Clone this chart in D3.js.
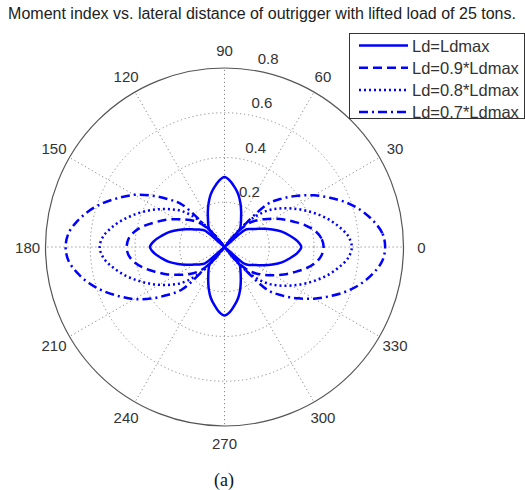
<!DOCTYPE html>
<html>
<head>
<meta charset="utf-8">
<script src="https://cdn.jsdelivr.net/npm/d3@7"></script>
<style>
  body { margin: 0; background: #fff; }
  svg { display: block; }
</style>
</head>
<body>
<svg id="chart" width="525" height="490"></svg>
<script>
// Sample angles (degrees, counter-clockwise from the 0° axis)
const angles = [
  0, 5, 10, 15, 20, 25, 30, 35, 40, 45, 50, 55, 60, 65, 70, 75, 80, 85,
  90, 95, 100, 105, 110, 115, 120, 125, 130, 135, 140, 145, 150, 155, 160, 165, 170, 175,
  180, 185, 190, 195, 200, 205, 210, 215, 220, 225, 230, 235, 240, 245, 250, 255, 260, 265,
  270, 275, 280, 285, 290, 295, 300, 305, 310, 315, 320, 325, 330, 335, 340, 345, 350, 355
];

// Moment index for each outrigger lateral distance
const rLdmax = [
  0.343, 0.325, 0.295, 0.265, 0.228, 0.193, 0.162, 0.140, 0.118, 0,
  0.107, 0.127, 0.148, 0.176, 0.208, 0.241, 0.269, 0.296, 0.313, 0.296,
  0.269, 0.241, 0.208, 0.176, 0.148, 0.127, 0.107, 0, 0.114, 0.136,
  0.157, 0.187, 0.221, 0.257, 0.286, 0.315, 0.333, 0.315, 0.286, 0.257,
  0.221, 0.187, 0.157, 0.136, 0.114, 0, 0.105, 0.124, 0.145, 0.172,
  0.204, 0.236, 0.263, 0.290, 0.306, 0.290, 0.263, 0.236, 0.204, 0.172,
  0.145, 0.124, 0.105, 0, 0.118, 0.140, 0.162, 0.193, 0.228, 0.265,
  0.295, 0.325
];
const rLd09 = [
  0.443, 0.435, 0.412, 0.374, 0.330, 0.292, 0.252, 0.217, 0.184, 0.146,
  0.075, 0, 0, 0, 0, 0, 0, 0, 0, 0,
  0, 0, 0, 0, 0, 0, 0.074, 0.144, 0.182, 0.214,
  0.249, 0.288, 0.326, 0.369, 0.406, 0.430, 0.437, 0.430, 0.406, 0.369,
  0.326, 0.288, 0.249, 0.214, 0.182, 0.144, 0.074, 0, 0, 0,
  0, 0, 0, 0, 0, 0, 0, 0, 0, 0,
  0, 0, 0.075, 0.146, 0.184, 0.217, 0.252, 0.292, 0.330, 0.374,
  0.412, 0.435
];
const rLd08 = [
  0.569, 0.555, 0.520, 0.480, 0.435, 0.390, 0.345, 0.300, 0.255, 0.190,
  0.100, 0, 0, 0, 0, 0, 0, 0, 0, 0,
  0, 0, 0, 0, 0, 0, 0.098, 0.186, 0.250, 0.294,
  0.338, 0.382, 0.426, 0.470, 0.510, 0.544, 0.558, 0.544, 0.510, 0.470,
  0.426, 0.382, 0.338, 0.294, 0.250, 0.186, 0.098, 0, 0, 0,
  0, 0, 0, 0, 0, 0, 0, 0, 0, 0,
  0, 0, 0.100, 0.190, 0.255, 0.300, 0.345, 0.390, 0.435, 0.480,
  0.520, 0.555
];
const rLd07 = [
  0.718, 0.708, 0.675, 0.632, 0.580, 0.520, 0.462, 0.400, 0.338, 0.270,
  0.040, 0, 0, 0, 0, 0, 0, 0, 0, 0,
  0, 0, 0, 0, 0, 0, 0.040, 0.267, 0.334, 0.402,
  0.466, 0.520, 0.576, 0.626, 0.668, 0.700, 0.710, 0.700, 0.668, 0.626,
  0.576, 0.520, 0.466, 0.402, 0.334, 0.267, 0.040, 0, 0, 0,
  0, 0, 0, 0, 0, 0, 0, 0, 0, 0,
  0, 0, 0.040, 0.270, 0.338, 0.400, 0.462, 0.520, 0.580, 0.632,
  0.675, 0.708
];

const seriesNames = ["Ld=Ldmax", "Ld=0.9*Ldmax", "Ld=0.8*Ldmax", "Ld=0.7*Ldmax"];
const ringTicks = [0.2, 0.4, 0.6, 0.8];
const spokeAngles = [0, 30, 60, 90, 120, 150, 180, 210, 240, 270, 300, 330];
const titleText = "Moment index vs. lateral distance of outrigger with lifted load of 25 tons.";
const captionText = "(a)";

// ---- layout ----
const svg = d3.select("#chart");
const cx = 224.5, cy = 247, R = 179;
const rMax = 0.8;
const rScale = d3.scaleLinear().domain([0, rMax]).range([0, R]);
const toRad = d => d * Math.PI / 180;

const gridColor = "#8a8a8a";
const textColor = "#333";
const lineBlue = "#0000ff";
const dashes = [null, "9,5", "2,3", "9,4,2,4"];
const seriesData = [rLdmax, rLd09, rLd08, rLd07];

const g = svg.append("g").attr("transform", `translate(${cx},${cy})`);

// outer boundary
g.append("circle").attr("r", rScale(rMax))
  .attr("fill", "none").attr("stroke", "#555").attr("stroke-width", 1.2);

// dotted rings
g.selectAll("circle.ring").data(ringTicks.filter(v => v < rMax)).join("circle")
  .attr("class", "ring")
  .attr("r", d => rScale(d))
  .attr("fill", "none").attr("stroke", gridColor).attr("stroke-width", 1)
  .attr("stroke-dasharray", "1.2,2.8");

// dotted spokes
g.selectAll("line.spoke").data(spokeAngles).join("line")
  .attr("class", "spoke")
  .attr("x1", 0).attr("y1", 0)
  .attr("x2", d => rScale(rMax) * Math.cos(toRad(d)))
  .attr("y2", d => -rScale(rMax) * Math.sin(toRad(d)))
  .attr("stroke", gridColor).attr("stroke-width", 1)
  .attr("stroke-dasharray", "1.2,2.8");

// angle labels
g.selectAll("text.ang").data(spokeAngles).join("text")
  .attr("class", "ang")
  .attr("x", d => 1.1 * rScale(rMax) * Math.cos(toRad(d)))
  .attr("y", d => -1.1 * rScale(rMax) * Math.sin(toRad(d)))
  .attr("text-anchor", "middle").attr("dominant-baseline", "central")
  .attr("font-family", "Liberation Sans, Arial, sans-serif").attr("font-size", 15)
  .attr("fill", textColor)
  .text(d => d);

// ring labels along the 82° direction
const labAng = toRad(82);
g.selectAll("text.rlab").data(ringTicks).join("text")
  .attr("class", "rlab")
  .attr("x", d => rScale(d + 0.01) * Math.cos(labAng) + 8)
  .attr("y", d => -rScale(d + 0.01) * Math.sin(labAng) - 3.5)
  .attr("font-family", "Liberation Sans, Arial, sans-serif").attr("font-size", 15)
  .attr("fill", textColor)
  .text(d => d);

// curves
const radial = d3.lineRadial()
  .angle(d => Math.PI / 2 - toRad(d[0]))
  .radius(d => rScale(d[1]))
  .curve(d3.curveCatmullRomClosed.alpha(0.5));

seriesData.forEach((vals, i) => {
  const pts = angles.map((a, k) => [a, vals[k]]);
  g.append("path")
    .attr("d", radial(pts))
    .attr("fill", "none")
    .attr("stroke", lineBlue)
    .attr("stroke-width", 2.5)
    .attr("stroke-linejoin", "round")
    .attr("stroke-dasharray", dashes[i]);
});

// title
svg.append("text")
  .attr("x", 262).attr("y", 19)
  .attr("text-anchor", "middle")
  .attr("font-family", "Liberation Sans, Arial, sans-serif").attr("font-size", 16)
  .attr("fill", "#222")
  .text(titleText);

// legend
const lg = svg.append("g");
lg.append("rect")
  .attr("x", 349.5).attr("y", 33.5).attr("width", 175).attr("height", 85)
  .attr("fill", "#fff").attr("stroke", "#333").attr("stroke-width", 1);
seriesNames.forEach((name, i) => {
  const y = 45.5 + i * 22.2;
  lg.append("line")
    .attr("x1", 359).attr("x2", 408).attr("y1", y).attr("y2", y)
    .attr("stroke", lineBlue).attr("stroke-width", 2.5)
    .attr("stroke-dasharray", dashes[i]);
  lg.append("text")
    .attr("x", 412).attr("y", y)
    .attr("dominant-baseline", "central")
    .attr("font-family", "Liberation Sans, Arial, sans-serif").attr("font-size", 16.5)
    .attr("fill", textColor)
    .text(name);
});

// caption
svg.append("text")
  .attr("x", 224).attr("y", 486)
  .attr("text-anchor", "middle")
  .attr("font-family", "Liberation Serif, Times New Roman, serif").attr("font-size", 18)
  .attr("fill", "#111")
  .text(captionText);
</script>
</body>
</html>
